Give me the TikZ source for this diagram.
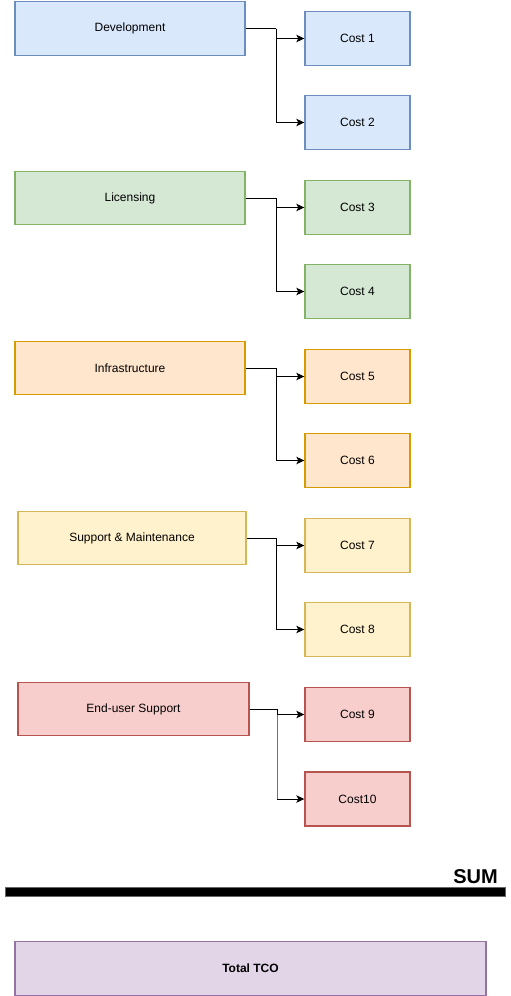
\documentclass[tikz,border=0pt]{standalone}
\usepackage{fontspec}
\setmainfont{Liberation Sans}
\usetikzlibrary{arrows.meta}
\definecolor{bfill}{HTML}{DAE8FC}\definecolor{bdraw}{HTML}{6C8EBF}
\definecolor{gfill}{HTML}{D5E8D4}\definecolor{gdraw}{HTML}{82B366}
\definecolor{ofill}{HTML}{FFE6CC}\definecolor{odraw}{HTML}{D79B00}
\definecolor{yfill}{HTML}{FFF2CC}\definecolor{ydraw}{HTML}{D6B656}
\definecolor{rfill}{HTML}{F8CECC}\definecolor{rdraw}{HTML}{B85450}
\definecolor{pfill}{HTML}{E1D5E7}\definecolor{pdraw}{HTML}{9673A6}
\tikzset{
  box/.style={rectangle, line width=1.4pt, minimum height=53.5pt, inner sep=0pt, font=\fontsize{12}{14}\selectfont},
  mainbox/.style={box, minimum width=230pt},
  costbox/.style={box, minimum width=105pt, minimum height=54pt},
  blue/.style={fill=bfill, draw=bdraw},
  green/.style={fill=gfill, draw=gdraw},
  orange/.style={fill=ofill, draw=odraw},
  yellow/.style={fill=yfill, draw=ydraw},
  red/.style={fill=rfill, draw=rdraw},
  conn/.style={line width=0.9pt, -{Stealth[length=8pt,width=7.5pt,inset=2pt]}},
  seg/.style={line width=0.9pt}
}
\begin{document}
\begin{tikzpicture}[x=1pt,y=-1pt]
\useasboundingbox (0,0) rectangle (511,996);
% group 1
\node[mainbox, blue] (dev) at (130,28.5) {Development};
\node[costbox, blue] (c1) at (357.5,38.5) {Cost 1};
\node[costbox, blue] (c2) at (357.5,122.5) {Cost 2};
\coordinate (j1) at (276,28.5);
\draw[seg] (dev.east) -- (j1);
\draw[conn] (j1) |- (c1.west);
\draw[conn] (j1) |- (c2.west);
% group 2
\node[mainbox, green] (lic) at (130,198) {Licensing};
\node[costbox, green] (c3) at (357.5,207.5) {Cost 3};
\node[costbox, green] (c4) at (357.5,291.5) {Cost 4};
\coordinate (j2) at (276,198);
\draw[seg] (lic.east) -- (j2);
\draw[conn] (j2) |- (c3.west);
\draw[conn] (j2) |- (c4.west);
% group 3
\node[mainbox, orange] (inf) at (130,368) {Infrastructure};
\node[costbox, orange] (c5) at (357.5,376.5) {Cost 5};
\node[costbox, orange] (c6) at (357.5,460.5) {Cost 6};
\coordinate (j3) at (276,368);
\draw[seg] (inf.east) -- (j3);
\draw[conn] (j3) |- (c5.west);
\draw[conn] (j3) |- (c6.west);
% group 4
\node[mainbox, yellow, minimum width=228pt] (sup) at (132,538) {Support \& Maintenance};
\node[costbox, yellow] (c7) at (357.5,545.5) {Cost 7};
\node[costbox, yellow] (c8) at (357.5,629.5) {Cost 8};
\coordinate (j4) at (276,538);
\draw[seg] (sup.east) -- (j4);
\draw[conn] (j4) |- (c7.west);
\draw[conn] (j4) |- (c8.west);
% group 5
\node[mainbox, red, minimum width=231pt] (eus) at (133.5,709) {End-user Support};
\node[costbox, red] (c9) at (357.5,714.5) {Cost 9};
\node[costbox, red] (c10) at (357.5,799) {Cost10};
\coordinate (j5) at (277,709);
\coordinate (k5) at (277,799);
\draw[seg, draw=black!55] (j5) -- (k5);
\draw[conn] (k5) -- (c10.west);
\draw[seg] (eus.east) -- (j5);
\draw[conn] (j5) |- (c9.west);
% sum bar
\node[rectangle, fill=black, draw=black!60, line width=0.8pt, minimum width=500pt, minimum height=9pt, inner sep=0pt] (bar) at (255,891.5) {};
\node[anchor=base east, inner sep=0pt, font=\fontsize{20}{24}\selectfont\bfseries] (sum) at (498,883) {SUM};
% total
\node[box, fill=pfill, draw=pdraw, minimum width=471pt, minimum height=54pt, font=\fontsize{12}{14}\selectfont\bfseries] (tco) at (250.5,968.5) {Total TCO};
\end{tikzpicture}
\end{document}
